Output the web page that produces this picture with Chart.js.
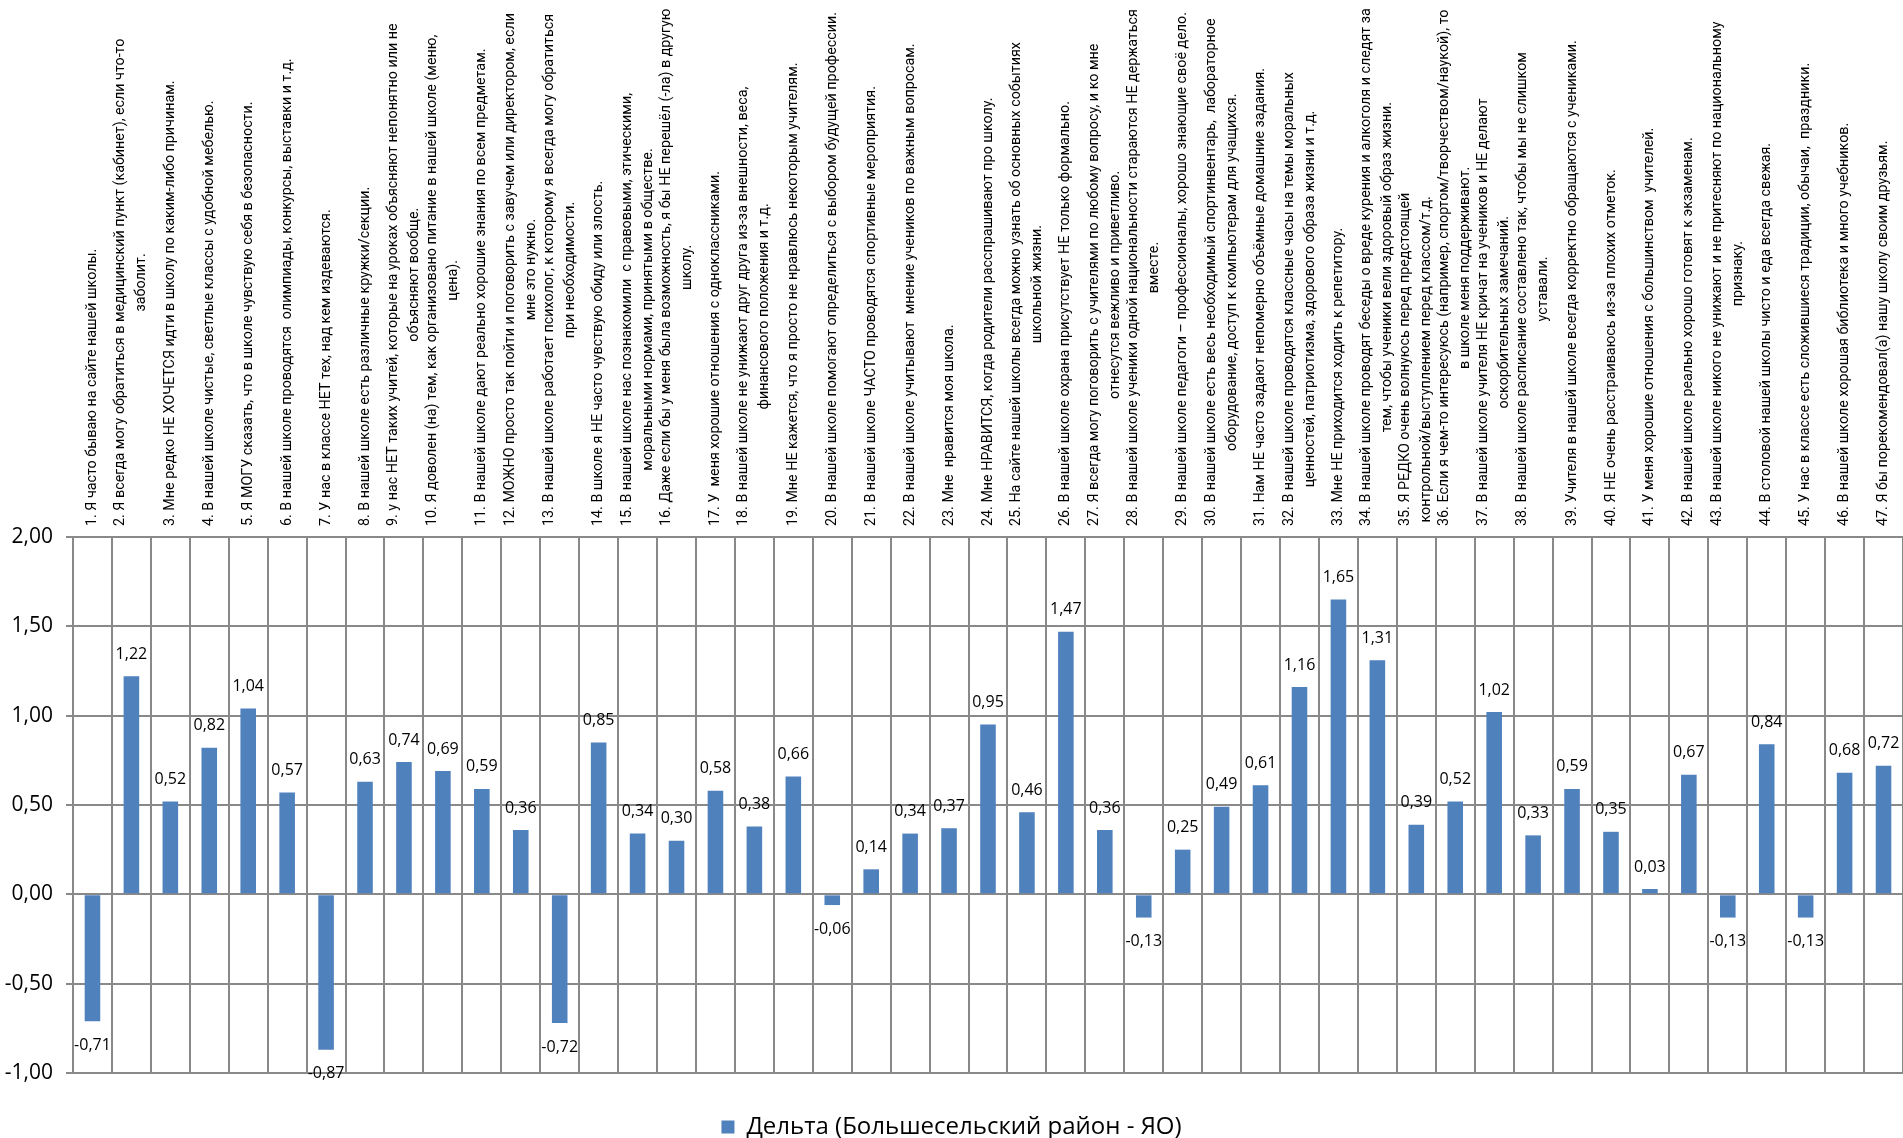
<!DOCTYPE html>
<html lang="ru">
<head>
  <meta charset="UTF-8">
  <title>Дельта (Большесельский район - ЯО)</title>
  <script src="https://cdn.jsdelivr.net/npm/chart.js"></script>
  <style>
    html, body { margin: 0; padding: 0; background: #fff; overflow: hidden; }
  </style>
</head>
<body>
  <canvas id="deltaChart" width="1903" height="1138"></canvas>

  <script>
    // подписи вопросов (строки переноса как на исходной диаграмме)
    const questions = [
      ['1. Я часто бываю на сайте нашей школы.'],
      ['2. Я всегда могу обратиться в медицинский пункт (кабинет), если что-то', 'заболит.'],
      ['3. Мне редко НЕ ХОЧЕТСЯ идти в школу по каким-либо причинам.'],
      ['4. В нашей школе чистые, светлые классы с удобной мебелью.'],
      ['5. Я МОГУ сказать, что в школе чувствую себя в безопасности.'],
      ['6. В нашей школе проводятся  олимпиады, конкурсы, выставки и т.д.'],
      ['7. У нас в классе НЕТ тех, над кем издеваются.'],
      ['8. В нашей школе есть различные кружки/секции.'],
      ['9. у нас НЕТ таких учитей, которые на уроках объясняют непонятно или не', 'объясняют вообще.'],
      ['10. Я доволен (на) тем, как организовано питание в нашей школе (меню,', 'цена).'],
      ['11. В нашей школе дают реально хорошие знания по всем предметам.'],
      ['12. МОЖНО просто так пойти и поговорить с завучем или директором, если', 'мне это нужно.'],
      ['13. В нашей школе работает психолог, к которому я всегда могу обратиться', 'при необходимости.'],
      ['14. В школе я НЕ часто чувствую обиду или злость.'],
      ['15. В нашей школе нас познакомили  с правовыми, этическими,', 'моральными нормами, принятыми в обществе.'],
      ['16. Даже если бы у меня была возможность, я бы НЕ перешёл (-ла) в другую', 'школу.'],
      ['17. У  меня хорошие отношения с одноклассниками.'],
      ['18. В нашей школе не унижают друг друга из-за внешности, веса,', 'финансового положения и т.д.'],
      ['19. Мне НЕ кажется, что я просто не нравлюсь некоторым учителям.'],
      ['20. В нашей школе помогают определиться с выбором будущей профессии.'],
      ['21. В нашей школе ЧАСТО проводятся спортивные мероприятия.'],
      ['22. В нашей школе учитывают  мнение учеников по важным вопросам.'],
      ['23. Мне  нравится моя школа.'],
      ['24. Мне НРАВИТСЯ, когда родители расспрашивают про школу.'],
      ['25. На сайте нашей школы всегда можно узнать об основных событиях', 'школьной жизни.'],
      ['26. В нашей школе охрана присутствует НЕ только формально.'],
      ['27. Я всегда могу поговорить с учителями по любому вопросу, и ко мне', 'отнесутся вежливо и приветливо.'],
      ['28. В нашей школе ученики одной национальности стараются НЕ держаться', 'вместе.'],
      ['29. В нашей школе педагоги – профессионалы, хорошо знающие своё дело.'],
      ['30. В нашей школе есть весь необходимый спортинвентарь,  лабораторное', 'оборудование, доступ к компьютерам для учащихся.'],
      ['31. Нам НЕ часто задают непомерно объёмные домашние задания.'],
      ['32. В нашей школе проводятся классные часы на темы моральных', 'ценностей, патриотизма, здорового образа жизни и т.д.'],
      ['33. Мне НЕ приходится ходить к репетитору.'],
      ['34. В нашей школе проводят беседы о вреде курения и алкоголя и следят за', 'тем, чтобы ученики вели здоровый образ жизни.'],
      ['35. Я РЕДКО очень волнуюсь перед предстоящей', 'контрольной/выступлением перед классом/т.д.'],
      ['36. Если я чем-то интересуюсь (например, спортом/творчеством/наукой), то', 'в школе меня поддерживают.'],
      ['37. В нашей школе учителя НЕ кричат на учеников и НЕ делают', 'оскорбительных замечаний.'],
      ['38. В нашей школе расписание составлено так, чтобы мы не слишком', 'уставали.'],
      ['39. Учителя в нашей школе всегда корректно обращаются с учениками.'],
      ['40. Я НЕ очень расстраиваюсь из-за плохих отметок.'],
      ['41. У меня хорошие отношения с большинством  учителей.'],
      ['42. В нашей школе реально хорошо готовят к экзаменам.'],
      ['43. В нашей школе никого не унижают и не притесняют по национальному', 'признаку.'],
      ['44. В столовой нашей школы чисто и еда всегда свежая.'],
      ['45. У нас в классе есть сложившиеся традиции, обычаи,  праздники.'],
      ['46. В нашей школе хорошая библиотека и много учебников.'],
      ['47. Я бы порекомендовал(а) нашу школу своим друзьям.']
    ];

    const deltaValues = [
      -0.71, 1.22, 0.52, 0.82, 1.04, 0.57, -0.87, 0.63, 0.74, 0.69,
      0.59, 0.36, -0.72, 0.85, 0.34, 0.30, 0.58, 0.38, 0.66, -0.06,
      0.14, 0.34, 0.37, 0.95, 0.46, 1.47, 0.36, -0.13, 0.25, 0.49,
      0.61, 1.16, 1.65, 1.31, 0.39, 0.52, 1.02, 0.33, 0.59, 0.35,
      0.03, 0.67, -0.13, 0.84, -0.13, 0.68, 0.72
    ];

    const yTickValues = [-1, -0.5, 0, 0.5, 1, 1.5, 2];
    const seriesName = 'Дельта (Большесельский район - ЯО)';

    const fmt = v => v.toFixed(2).replace('.', ',');
    const FONT = "'Open Sans', 'DejaVu Sans', sans-serif";
    const LABEL_FONT = "Roboto, 'Open Sans', sans-serif";
    const gridGray = '#898989';

    // подписи категорий: повёрнутый текст, строки по центру блока (как в Excel)
    const questionLabels = {
      id: 'questionLabels',
      afterDraw(chart) {
        const { ctx, chartArea, scales: { x } } = chart;
        const maxLen = 518, lineStep = 21;
        ctx.save();
        ctx.font = '15px ' + LABEL_FONT;
        let widest = 0;
        questions.forEach(lines => lines.forEach(l => {
          widest = Math.max(widest, ctx.measureText(l).width);
        }));
        const size = 15 * maxLen / widest;
        ctx.font = size.toFixed(2) + 'px ' + LABEL_FONT;
        ctx.fillStyle = '#000';
        ctx.textAlign = 'center';
        ctx.textBaseline = 'middle';
        const baseY = chartArea.top - 11;
        questions.forEach((lines, i) => {
          const px = x.getPixelForValue(i);
          const blockW = Math.max(...lines.map(l => ctx.measureText(l).width));
          ctx.save();
          ctx.translate(px, baseY);
          ctx.rotate(-Math.PI / 2);
          lines.forEach((l, k) => {
            ctx.fillText(l, blockW / 2, (k - (lines.length - 1) / 2) * lineStep);
          });
          ctx.restore();
        });
        ctx.restore();
      }
    };

    // значения над/под столбцами
    const valueLabels = {
      id: 'valueLabels',
      afterDatasetsDraw(chart) {
        const { ctx } = chart;
        const meta = chart.getDatasetMeta(0);
        ctx.save();
        ctx.font = '16px ' + FONT;
        ctx.fillStyle = '#000';
        ctx.textAlign = 'center';
        ctx.textBaseline = 'middle';
        meta.data.forEach((bar, i) => {
          const v = deltaValues[i];
          const y = v >= 0 ? bar.y - 22 : bar.y + 24;
          ctx.fillText(fmt(v), bar.x, y);
        });
        ctx.restore();
      }
    };

    const ctx = document.getElementById('deltaChart').getContext('2d');
    new Chart(ctx, {
      type: 'bar',
      data: {
        labels: questions,
        datasets: [{
          label: seriesName,
          data: deltaValues,
          backgroundColor: '#4F81BD',
          borderWidth: 0,
          barPercentage: 0.4,
          categoryPercentage: 1.0
        }]
      },
      options: {
        responsive: false,
        animation: false,
        devicePixelRatio: 1,
        layout: { padding: { top: 537, left: 0, right: 0, bottom: -11 } },
        scales: {
          x: {
            position: 'top',
            ticks: { display: false },
            grid: { color: gridGray, lineWidth: 2, drawTicks: false },
            border: { color: gridGray, width: 2 }
          },
          y: {
            min: -1,
            max: 2,
            afterBuildTicks: axis => { axis.ticks = yTickValues.map(v => ({ value: v })); },
            afterFit: axis => { axis.width = 73; },
            ticks: {
              callback: v => fmt(v),
              font: { family: FONT, size: 21 },
              color: '#000',
              padding: 13
            },
            grid: { color: gridGray, lineWidth: 2, tickLength: 7 },
            border: { color: gridGray, width: 2 }
          }
        },
        plugins: {
          legend: {
            position: 'bottom',
            labels: {
              boxWidth: 13,
              boxHeight: 13,
              padding: 42,
              color: '#000',
              font: { family: FONT, size: 24 }
            }
          },
          tooltip: { enabled: false }
        }
      },
      plugins: [questionLabels, valueLabels]
    });
  </script>
</body>
</html>
